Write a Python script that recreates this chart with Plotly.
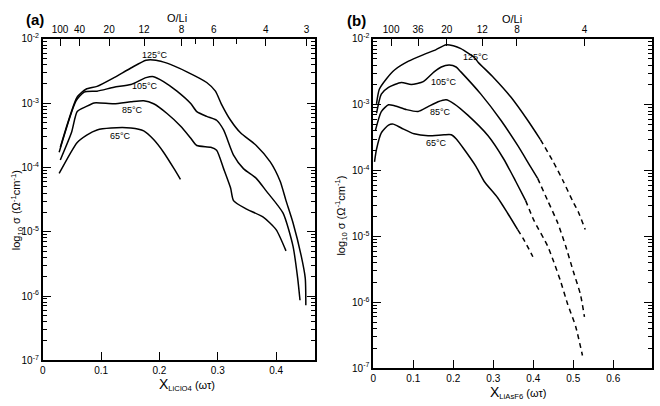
import plotly.graph_objects as go

# ---------------- Panel (a): PEO-LiClO4 ----------------
a_x_125 = [0.030, 0.059, 0.074, 0.093, 0.122, 0.151, 0.177, 0.194, 0.213, 0.247, 0.281, 0.296,
           0.306, 0.322, 0.339, 0.366, 0.390, 0.407, 0.417, 0.429, 0.443, 0.450, 0.451]
a_s_125 = [2.06e-4, 1.25e-3, 1.65e-3, 1.83e-3, 2.5e-3, 3.53e-3, 4.67e-3, 4.67e-3, 4.2e-3, 3.08e-3,
           2.1e-3, 1.54e-3, 9.8e-4, 5.43e-4, 3.46e-4, 2.2e-4, 1.22e-4, 6.1e-5, 3.05e-5, 1.38e-5,
           4.24e-6, 1.9e-6, 7.2e-7]

a_x_105 = [0.028, 0.057, 0.071, 0.093, 0.122, 0.151, 0.177, 0.190, 0.207, 0.230, 0.254, 0.264,
           0.281, 0.298, 0.310, 0.327, 0.344, 0.366, 0.383, 0.412, 0.429, 0.437, 0.441]
a_s_105 = [1.73e-4, 1.09e-3, 1.49e-3, 1.54e-3, 1.77e-3, 1.96e-3, 2.5e-3, 2.59e-3, 2.17e-3, 1.54e-3,
           9.8e-4, 7.41e-4, 6.24e-4, 5.43e-4, 3.84e-4, 1.56e-4, 9.6e-5, 6.78e-5, 4.33e-5, 1.95e-5,
           5.98e-6, 1.9e-6, 8.6e-7]

a_x_85 = [0.030, 0.049, 0.059, 0.074, 0.088, 0.122, 0.151, 0.173, 0.190, 0.213, 0.236, 0.253,
          0.264, 0.288, 0.298, 0.310, 0.322, 0.327, 0.347, 0.378, 0.400, 0.417]
a_s_85 = [1.31e-4, 3.46e-4, 7.41e-4, 8.83e-4, 1.01e-3, 9.8e-4, 1.05e-3, 1.09e-3, 9.8e-4, 6.92e-4,
          4.42e-4, 2.91e-4, 2.2e-4, 2.06e-4, 1.85e-4, 9.6e-5, 4.8e-5, 3.05e-5, 2.31e-5, 1.69e-5,
          1.08e-5, 5.04e-6]

a_x_65 = [0.028, 0.059, 0.076, 0.093, 0.117, 0.151, 0.173, 0.190, 0.207, 0.225, 0.236]
a_s_65 = [8.07e-5, 2.45e-4, 3.23e-4, 3.84e-4, 4.11e-4, 4.11e-4, 3.71e-4, 2.72e-4, 1.73e-4, 9.6e-5, 6.55e-5]

# ---------------- Panel (b): PEO-LiAsF6 ----------------
b_x_125 = [0.008, 0.015, 0.033, 0.053, 0.088, 0.127, 0.157, 0.182, 0.200, 0.219, 0.252, 0.262,
           0.301, 0.344, 0.386, 0.418]
b_s_125 = [1.035e-3, 1.72e-3, 2.49e-3, 3.38e-3, 4.59e-3, 5.82e-3, 6.89e-3, 8.17e-3, 7.89e-3,
           7.13e-3, 5.26e-3, 4.44e-3, 2.58e-3, 1.31e-3, 5.82e-4, 2.96e-4]
b_x_125_ext = [0.418, 0.450, 0.475, 0.498, 0.513, 0.530]
b_s_125_ext = [2.96e-4, 1.36e-4, 6.89e-5, 3.5e-5, 2.33e-5, 1.27e-5]

b_x_105 = [0.008, 0.020, 0.038, 0.070, 0.095, 0.125, 0.152, 0.170, 0.190, 0.207, 0.219, 0.269,
           0.319, 0.361, 0.393, 0.411]
b_s_105 = [7.38e-4, 1.45e-3, 1.84e-3, 2.18e-3, 2.04e-3, 2.25e-3, 3.16e-3, 3.75e-3, 4.01e-3,
           3.75e-3, 3.16e-3, 1.45e-3, 5.82e-4, 2.41e-4, 1.15e-4, 7.62e-5]
b_x_105_ext = [0.411, 0.436, 0.461, 0.481, 0.500, 0.518, 0.528]
b_s_105_ext = [7.62e-5, 3.5e-5, 1.61e-5, 7.13e-6, 2.96e-6, 1.31e-6, 6.01e-7]

b_x_85 = [0.005, 0.020, 0.038, 0.053, 0.083, 0.112, 0.137, 0.162, 0.182, 0.202, 0.237, 0.287,
          0.326, 0.356, 0.381]
b_s_85 = [4.01e-4, 7.89e-4, 1.0e-3, 9.66e-4, 8.43e-4, 7.89e-4, 9.35e-4, 1.11e-3, 1.19e-3,
          1.035e-3, 6.89e-4, 3.38e-4, 1.5e-4, 6.89e-5, 3.5e-5]
b_x_85_ext = [0.381, 0.401, 0.436, 0.451, 0.468, 0.486, 0.506, 0.523]
b_s_85_ext = [3.5e-5, 1.78e-5, 7.13e-6, 4.15e-6, 2.11e-6, 9.35e-7, 4.29e-7, 1.55e-7]

b_x_65 = [0.003, 0.008, 0.020, 0.038, 0.050, 0.070, 0.102, 0.137, 0.177, 0.195, 0.207, 0.227,
          0.257, 0.277, 0.311, 0.336, 0.361]
b_s_65 = [1.36e-4, 2.11e-4, 3.75e-4, 4.91e-4, 5.08e-4, 4.44e-4, 3.62e-4, 3.38e-4, 3.5e-4, 3.5e-4,
          3.05e-4, 2.11e-4, 1.15e-4, 6.89e-5, 3.87e-5, 2.25e-5, 1.27e-5]
b_x_65_ext = [0.361, 0.376, 0.399]
b_s_65_ext = [1.27e-5, 9.04e-6, 4.91e-6]

# Top-axis O/Li ratios
a_oli_labeled = [100, 40, 20, 12, 8, 6, 4, 3]
a_oli_minor = [7, 5]
b_oli_labeled = [100, 36, 20, 12, 8, 4]
M_EO = 44.05
M_LICLO4 = 106.4
M_LIASF6 = 195.9

y_tick_vals = [1e-7, 1e-6, 1e-5, 1e-4, 1e-3, 1e-2]
y_tick_text = ["10<sup>-7</sup>", "10<sup>-6</sup>", "10<sup>-5</sup>",
               "10<sup>-4</sup>", "10<sup>-3</sup>", "10<sup>-2</sup>"]
y_minor_vals = [k * 10.0 ** e for e in range(-7, -2) for k in range(2, 10)]
xa_ticks = [0, 0.1, 0.2, 0.3, 0.4]
xa_text = ["0", "0.1", "0.2", "0.3", "0.4"]
xb_ticks = [0, 0.1, 0.2, 0.3, 0.4, 0.5, 0.6]
xb_text = ["0", "0.1", "0.2", "0.3", "0.4", "0.5", "0.6"]

W, H = 660, 406
FONT = "Liberation Sans"


def wfrac(M, n):
    return M / (M + M_EO * n)


def px(x):
    return x / W


def py(y):
    return 1 - y / H


fig = go.Figure()
LW = 1.5


def add_line(xs, ys, xa, ya, dash="solid"):
    fig.add_trace(go.Scatter(x=xs, y=ys, mode="lines", xaxis=xa, yaxis=ya,
                             line=dict(color="black", width=LW, dash=dash, shape="spline", smoothing=0.6),
                             showlegend=False, hoverinfo="skip"))


for xs, ys in [(a_x_125, a_s_125), (a_x_105, a_s_105), (a_x_85, a_s_85), (a_x_65, a_s_65)]:
    add_line(xs, ys, "x", "y")
for xs, ys in [(b_x_125, b_s_125), (b_x_105, b_s_105), (b_x_85, b_s_85), (b_x_65, b_s_65)]:
    add_line(xs, ys, "x3", "y3")
for xs, ys in [(b_x_125_ext, b_s_125_ext), (b_x_105_ext, b_s_105_ext),
               (b_x_85_ext, b_s_85_ext), (b_x_65_ext, b_s_65_ext)]:
    add_line(xs, ys, "x3", "y3", dash="5px,4px")

# dummy traces so the top axes render
fig.add_trace(go.Scatter(x=[None], y=[None], xaxis="x2", yaxis="y", showlegend=False))
fig.add_trace(go.Scatter(x=[None], y=[None], xaxis="x4", yaxis="y3", showlegend=False))

tickfont = dict(family=FONT, size=10, color="black")
common_ax = dict(showline=True, linecolor="black", linewidth=1.8, showgrid=False, zeroline=False,
                 ticks="inside", tickcolor="black", tickwidth=1.4, tickfont=tickfont)

ax_a_dom = [px(40), px(313)]
ay_a_dom = [py(365), py(33)]
ax_b_dom = [px(372), px(652)]
ay_b_dom = [py(373), py(33)]

yaxis_common = dict(common_ax, type="log", range=[-7, -2], tickvals=y_tick_vals, ticktext=y_tick_text,
                    ticklen=8, mirror="ticks",
                    minor=dict(tickvals=y_minor_vals, ticks="inside", ticklen=4, tickcolor="black",
                               tickwidth=1.2, showgrid=False))

fig.update_layout(
    width=W, height=H, margin=dict(l=0, r=0, t=0, b=0),
    paper_bgcolor="white", plot_bgcolor="white", showlegend=False,
    xaxis=dict(common_ax, domain=ax_a_dom, range=[0.0, 0.466], anchor="y",
               tickvals=xa_ticks, ticktext=xa_text, ticklen=8, mirror=True),
    yaxis=dict(yaxis_common, domain=ay_a_dom, anchor="x"),
    xaxis2=dict(common_ax, overlaying="x", side="top", anchor="y", range=[-0.006, 0.460],
                tickvals=[wfrac(M_LICLO4, n) for n in a_oli_labeled],
                ticktext=[str(n) for n in a_oli_labeled], ticklen=7,
                minor=dict(tickvals=[wfrac(M_LICLO4, n) for n in a_oli_minor], ticks="inside",
                           ticklen=5, tickcolor="black", tickwidth=1.2)),
    xaxis3=dict(common_ax, domain=ax_b_dom, range=[0.0, 0.697], anchor="y3",
                tickvals=xb_ticks, ticktext=xb_text, ticklen=8, mirror=True),
    yaxis3=dict(yaxis_common, domain=ay_b_dom, anchor="x3"),
    xaxis4=dict(common_ax, overlaying="x3", side="top", anchor="y3", range=[-0.002, 0.695],
                tickvals=[wfrac(M_LIASF6, n) for n in b_oli_labeled],
                ticktext=[str(n) for n in b_oli_labeled], ticklen=7),
)

ann = []
lab_font = dict(family=FONT, size=9, color="black")
C = dict(showarrow=False, xanchor="center", yanchor="middle")
# curve labels panel (a)  (y in log10 units)
for txt, x, ly in [("125°C", 0.192, -2.256), ("105°C", 0.175, -2.738),
                   ("85°C", 0.153, -3.099), ("65°C", 0.134, -3.506)]:
    ann.append(dict(C, text=txt, x=x, y=ly, xref="x", yref="y", font=lab_font))
# curve labels panel (b)
for txt, x, ly in [("125°C", 0.257, -2.279), ("105°C", 0.177, -2.647),
                   ("85°C", 0.167, -3.103), ("65°C", 0.157, -3.574)]:
    ann.append(dict(C, text=txt, x=x, y=ly, xref="x3", yref="y3", font=lab_font))

title_font = dict(family=FONT, size=11, color="black")
ann += [
    dict(C, text="<b>(a)</b>", x=px(32), y=py(13), xref="paper", yref="paper",
         font=dict(family=FONT, size=15, color="black")),
    dict(C, text="<b>(b)</b>", x=px(355), y=py(14), xref="paper", yref="paper",
         font=dict(family=FONT, size=15, color="black")),
    dict(C, text="O/Li", x=px(175), y=py(11), xref="paper", yref="paper",
         font=dict(family=FONT, size=11, color="black")),
    dict(C, text="O/Li", x=px(511), y=py(12), xref="paper", yref="paper",
         font=dict(family=FONT, size=11, color="black")),
    dict(C, text="<span style='font-size:14px'>X</span><sub>LiClO4</sub> (ωτ)", x=px(185), y=py(390),
         xref="paper", yref="paper", font=title_font),
    dict(C, text="<span style='font-size:14px'>X</span><sub>LiAsF6</sub> (ωτ)", x=px(517), y=py(398),
         xref="paper", yref="paper", font=title_font),
    dict(C, text="log<sub>10</sub> σ (Ω<sup>-1</sup>cm<sup>-1</sup>)", x=px(14), y=py(210),
         xref="paper", yref="paper", textangle=-90, font=title_font),
    dict(C, text="log<sub>10</sub> σ (Ω<sup>-1</sup>cm<sup>-1</sup>)", x=px(340), y=py(215),
         xref="paper", yref="paper", textangle=-90, font=title_font),
]
fig.update_layout(annotations=ann)

fig.write_html("out.html")
